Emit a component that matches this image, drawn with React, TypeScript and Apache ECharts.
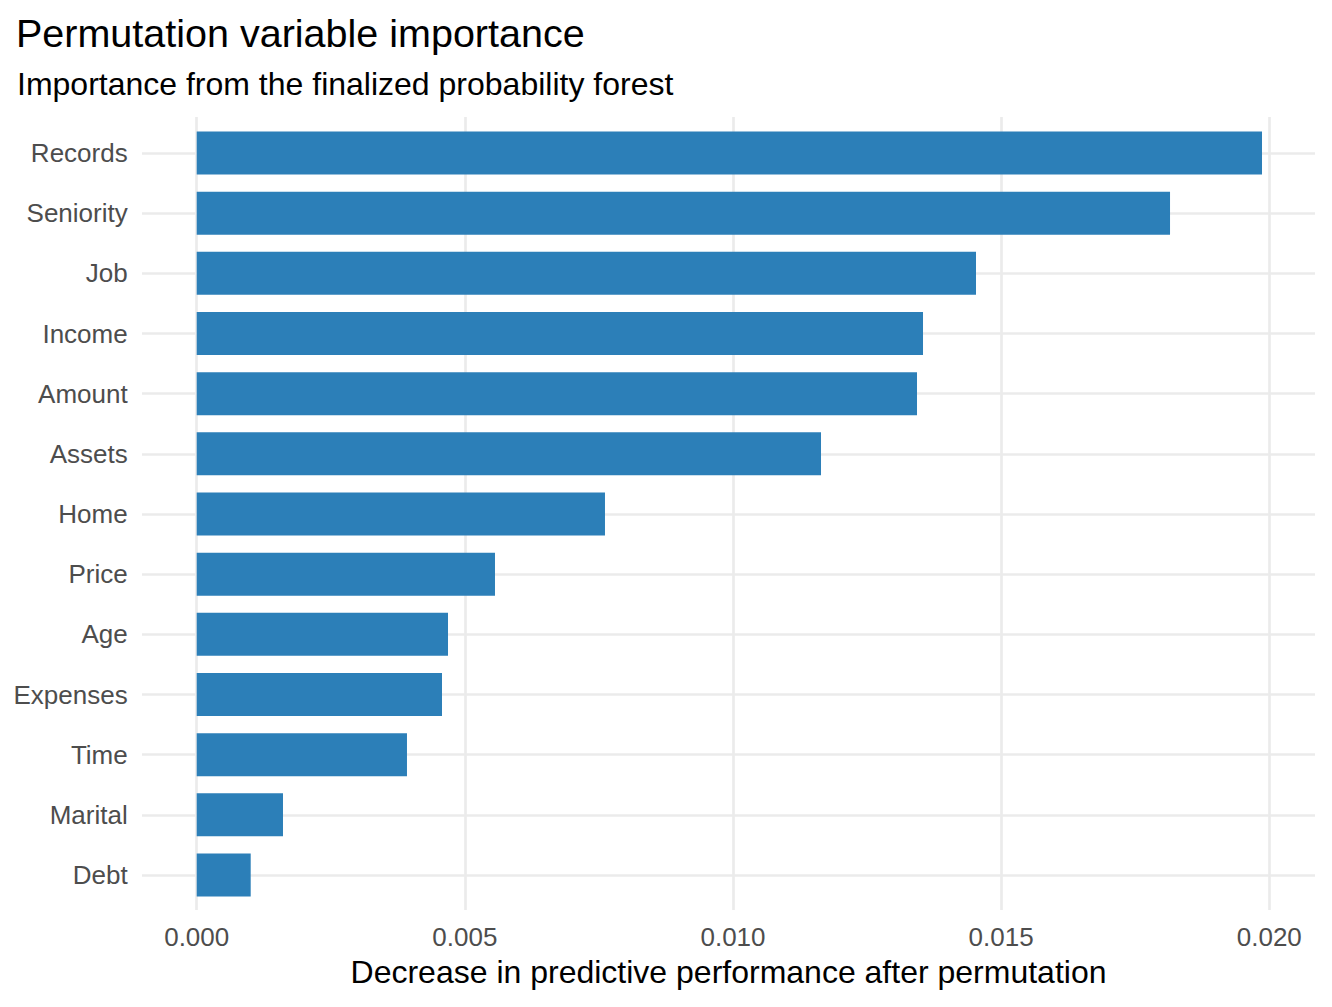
import React, { useEffect, useRef } from "react";
import * as echarts from "echarts";

const categories = [
  "Records", "Seniority", "Job", "Income", "Amount", "Assets", "Home",
  "Price", "Age", "Expenses", "Time", "Marital", "Debt",
];
const importance = [
  0.019864, 0.018149, 0.014531, 0.013543, 0.013431, 0.011641, 0.007613,
  0.005562, 0.004686, 0.004574, 0.003921, 0.001609, 0.001007,
];
const xTickStep = 0.005;
const xMin = 0;
const xMax = 0.02;

const FONT = "'Liberation Sans', Arial, Helvetica, sans-serif";
const GRID_COLOR = "#EBEBEB";
const BAR_COLOR = "#2C7FB8";
const GRID_W = 2.7;

export default function App() {
  const ref = useRef<HTMLDivElement>(null);
  useEffect(() => {
    if (!ref.current) return;
    const chart = echarts.init(ref.current, null, { renderer: "svg" });
    const left = 196.7;
    const right = 1332 - 1269.3;
    chart.setOption({
      animation: false,
      backgroundColor: "#ffffff",
      textStyle: { fontFamily: FONT },
      title: [
        {
          text: "Permutation variable importance",
          left: 11,
          top: 8,
          textStyle: { fontFamily: FONT, fontSize: 39.5, fontWeight: "normal", color: "#000000", lineHeight: 39.5 },
        },
        {
          text: "Importance from the finalized probability forest",
          left: 12,
          top: 63,
          textStyle: { fontFamily: FONT, fontSize: 32, fontWeight: "normal", color: "#000000", lineHeight: 32 },
        },
      ],
      grid: [
        { left, right, top: 117, bottom: 97, containLabel: false },
        { left, right, top: 153, bottom: 132, containLabel: false },
      ],
      xAxis: [
        {
          type: "value",
          gridIndex: 0,
          min: xMin,
          max: xMax,
          interval: xTickStep,
          axisLine: { show: false },
          axisTick: { show: false },
          splitLine: { show: true, lineStyle: { color: GRID_COLOR, width: GRID_W } },
          axisLabel: {
            margin: 14,
            fontSize: 26,
            color: "#4D4D4D",
            fontFamily: FONT,
            formatter: (v: number) => v.toFixed(3),
          },
          name: "Decrease in predictive performance after permutation",
          nameLocation: "middle",
          nameGap: 46,
          nameTextStyle: { fontSize: 32, color: "#000000", fontFamily: FONT, padding: [0, 9, 0, 0] },
        },
        {
          type: "value",
          gridIndex: 1,
          min: xMin,
          max: xMax,
          show: false,
        },
      ],
      yAxis: [
        { type: "value", gridIndex: 0, min: 0, max: 1, show: false },
        {
          type: "category",
          gridIndex: 1,
          data: categories,
          inverse: true,
          boundaryGap: false,
          axisLine: { show: false },
          axisTick: { show: true, interval: 0, length: 196.7 - 142, lineStyle: { color: GRID_COLOR, width: GRID_W } },
          splitLine: { show: true, interval: 0, lineStyle: { color: GRID_COLOR, width: GRID_W } },
          axisLabel: { interval: 0, margin: 69, fontSize: 26, color: "#4D4D4D", fontFamily: FONT, padding: [4, 0, 0, 0] },
        },
        {
          type: "category",
          gridIndex: 1,
          position: "right",
          data: categories,
          inverse: true,
          boundaryGap: false,
          axisLine: { show: false },
          axisTick: { show: true, interval: 0, length: 1315 - 1269.3, lineStyle: { color: GRID_COLOR, width: GRID_W } },
          splitLine: { show: false },
          axisLabel: { show: false },
        },
      ],
      series: [
        {
          type: "bar",
          xAxisIndex: 1,
          yAxisIndex: 1,
          data: importance,
          barWidth: 43,
          clip: false,
          itemStyle: { color: BAR_COLOR },
          silent: true,
        },
      ],
    });
    return () => chart.dispose();
  }, []);
  return (
    <div
      ref={ref}
      style={{ position: "absolute", left: 0, top: 0, width: 1332, height: 1007, background: "#fff" }}
    />
  );
}
